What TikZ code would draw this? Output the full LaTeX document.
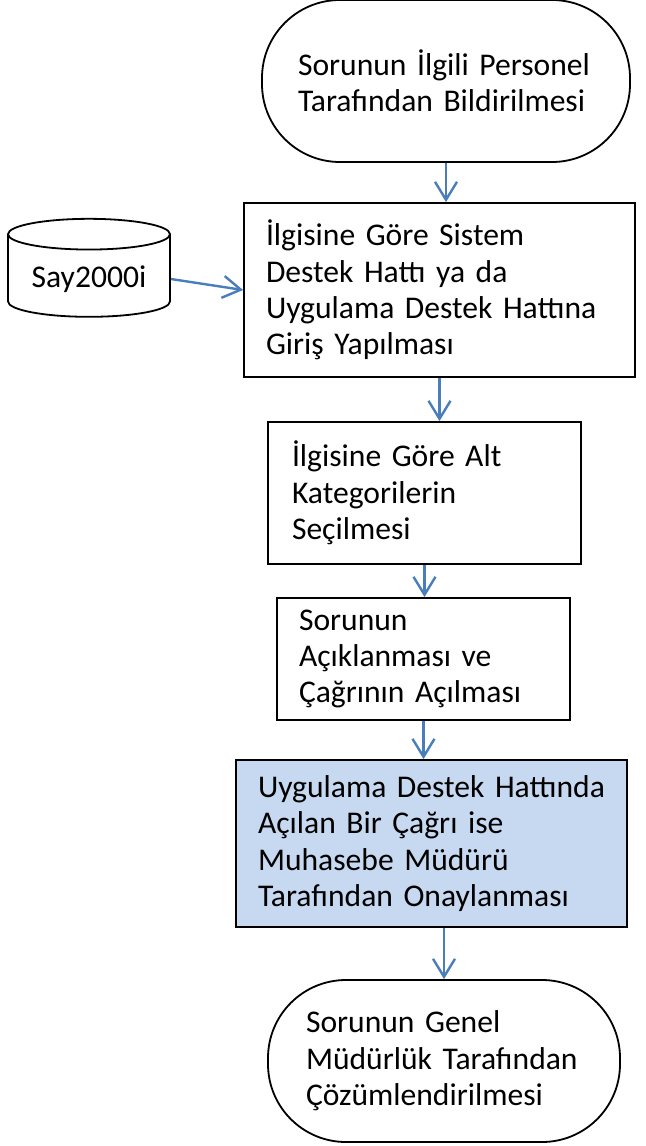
\documentclass[tikz,border=0pt]{standalone}
\usepackage{fontspec}
\setmainfont{Carlito}
\usetikzlibrary{arrows.meta, shapes.geometric}
\definecolor{flowblue}{RGB}{74,126,187}
\definecolor{notefill}{RGB}{198,217,241}
\tikzset{
    stepbox/.style={draw, line width=0.9pt, align=left, inner xsep=11pt, inner ysep=0pt},
    terminal/.style={stepbox, rounded corners=39pt, inner xsep=18pt},
    database/.style={draw, line width=0.9pt, fill=white, cylinder, shape border rotate=90, aspect=0.24},
    flow/.style={draw=flowblue, line width=1.2pt, -{Straight Barb[length=9pt, width=11pt]}},
}

\begin{document}
\begin{tikzpicture}[x=0.5pt, y=-0.5pt, font=\fontsize{15.8}{18.2}\selectfont]
    \useasboundingbox (0,0) rectangle (645,1146);

    \node[terminal, minimum width=184pt, minimum height=81pt, text width=148pt] (start) at (446,81)
        {Sorunun İlgili Personel\\Tarafından Bildirilmesi};

    \node[stepbox, minimum width=195.5pt, minimum height=87pt, text width=173.5pt] (entry) at (439.5,290)
        {İlgisine Göre Sistem\\Destek Hattı ya da\\Uygulama Destek Hattına\\Giriş Yapılması};

    \node[database, minimum width=81pt, minimum height=49pt] (say) at (89,279) {Say2000i};

    \node[stepbox, minimum width=156.5pt, minimum height=71pt, inner xsep=12pt, text width=132.5pt] (subcat) at (424.5,493)
        {İlgisine Göre Alt\\Kategorilerin\\Seçilmesi};

    \node[stepbox, minimum width=146.5pt, minimum height=61pt, text width=124.5pt] (describe) at (423.5,659)
        {Sorunun\\Açıklanması ve\\Çağrının Açılması};

    \node[stepbox, fill=notefill, minimum width=195.5pt, minimum height=83.5pt, text width=173.5pt] (approve) at (431.5,843.5)
        {Uygulama Destek Hattında\\Açılan Bir Çağrı ise\\Muhasebe Müdürü\\Tarafından Onaylanması};

    \node[terminal, minimum width=176pt, minimum height=81pt, inner xsep=19pt, text width=138pt] (finish) at (444,1061)
        {Sorunun Genel\\Müdürlük Tarafından\\Çözümlendirilmesi};

    \draw[flow] (start.south) -- (start.south |- entry.north);
    \draw[flow] (say.east) -- (entry.west);
    \draw[flow] (entry.south) -- (entry.south |- subcat.north);
    \draw[flow] (subcat.south) -- (subcat.south |- describe.north);
    \draw[flow] (describe.south) -- (describe.south |- approve.north);
    \draw[flow] (approve.south -| finish.north) -- (finish.north);
\end{tikzpicture}
\end{document}
